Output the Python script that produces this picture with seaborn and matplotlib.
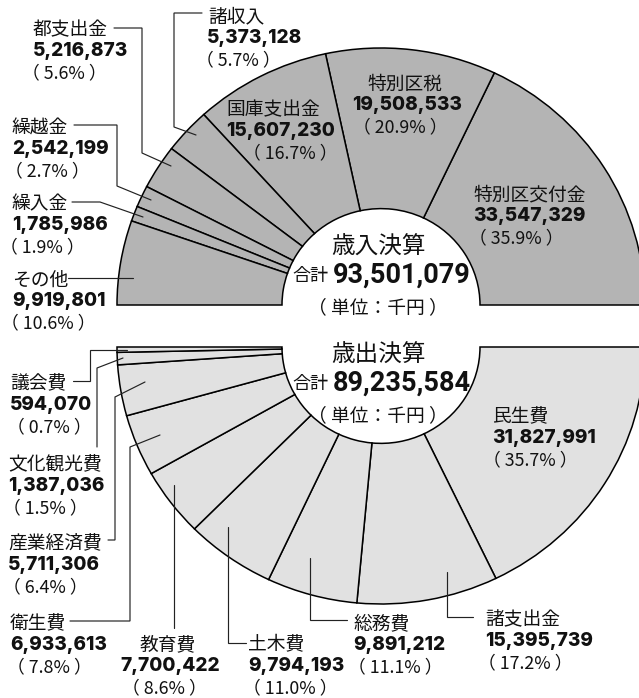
import matplotlib
matplotlib.use("Agg")
import matplotlib.pyplot as plt
import seaborn as sns
import numpy as np

# ---------------- data ----------------
rev_labels = ['特別区交付金', '特別区税', '国庫支出金', '諸収入', '都支出金', '繰越金', '繰入金', 'その他']
rev_values = [33547329, 19508533, 15607230, 5373128, 5216873, 2542199, 1785986, 9919801]
rev_pct = [35.9, 20.9, 16.7, 5.7, 5.6, 2.7, 1.9, 10.6]
rev_total = 93501079

exp_labels = ['民生費', '諸支出金', '総務費', '土木費', '教育費', '衛生費', '産業経済費', '文化観光費', '議会費']
exp_values = [31827991, 15395739, 9891212, 9794193, 7700422, 6933613, 5711306, 1387036, 594070]
exp_pct = [35.7, 17.2, 11.1, 11.0, 8.6, 7.8, 6.4, 1.5, 0.7]
exp_total = 89235584

rev_title = '歳入決算'
exp_title = '歳出決算'
total_word = '合計'
unit_text = '（ 単位：千円 ）'

# ---------------- style / layout ----------------
sns.set_theme(style='white')
plt.rcParams['font.family'] = ['Noto Sans CJK JP', 'DejaVu Sans']

W, H = 639, 698
S = 257 / 264            # vertical squash of the donuts (px per data unit in y)
CX, R, RIN = 381, 264, 99
TOP_CY, BOT_CY = 305, 347
TOP_COLOR, BOT_COLOR = '#b4b4b4', '#e1e1e1'
NUM_FONT = ['Inter', 'DejaVu Sans']
BIG_FONT = ['Roboto', 'DejaVu Sans']
FS_NAME, FS_NUM, FS_PCT = 13.5, 13.7, 12.8


def Y(y):
    return (H - y) / S


fig = plt.figure(figsize=(W / 100, H / 100), dpi=100)
ax = fig.add_axes([0, 0, 1, 1])

wp = dict(width=R - RIN, edgecolor='black', linewidth=1.1)
rev_frac = [v / (2 * sum(rev_values)) for v in rev_values]
exp_frac = [v / (2 * sum(exp_values)) for v in exp_values]
ax.pie(rev_frac, radius=R, center=(CX, Y(TOP_CY)), startangle=0, counterclock=True,
       normalize=False, colors=[TOP_COLOR] * len(rev_frac), wedgeprops=wp, frame=True)
ax.pie(exp_frac, radius=R, center=(CX, Y(BOT_CY)), startangle=0, counterclock=False,
       normalize=False, colors=[BOT_COLOR] * len(exp_frac), wedgeprops=wp, frame=True)
ax.set_aspect('auto')
ax.set_xlim(0, W)
ax.set_ylim(0, H / S)
ax.axis('off')

# label layout: (name_x, num_x, pct_x, name_center_y)
rev_pos = {
    '特別区交付金': (473, 473, 469, 193),
    '特別区税': (367, 352, 353, 82),
    '国庫支出金': (226, 226, 243, 108),
    '諸収入': (208, 207, 196, 15),
    '都支出金': (33, 33, 22, 28),
    '繰越金': (12, 12, 5, 126),
    '繰入金': (12, 12, 0, 202),
    'その他': (12, 12, 1, 278),
}
exp_pos = {
    '民生費': (492, 492, 483, 415),
    '諸支出金': (485, 485, 478, 618),
    '総務費': (353, 353, 348, 622),
    '土木費': (248, 248, 243, 643),
    '教育費': (140, 120, 122, 643),
    '衛生費': (10, 10, 7, 622),
    '産業経済費': (8, 8, 3, 542),
    '文化観光費': (8, 8, 3, 463),
    '議会費': (10, 10, 7, 382),
}

leaders = [
    [(114, 28), (142, 28), (142, 153), (171, 166)],
    [(202, 13), (174, 13), (174, 127), (196, 135)],
    [(74, 125), (117, 125), (117, 186), (151, 200)],
    [(72, 202), (100, 202), (143, 217)],
    [(68, 278), (133, 278)],
    [(447, 572), (447, 617), (473, 617)],
    [(310, 558), (310, 620), (347, 620)],
    [(228, 527), (228, 643), (246, 643)],
    [(174, 485), (174, 628)],
    [(70, 621), (130, 621), (130, 447), (160, 435)],
    [(108, 540), (115, 540), (115, 397), (145, 382)],
    [(97, 447), (97, 368), (123, 358)],
    [(73, 381), (90, 381), (90, 350), (127, 350)],
]
for pts in leaders:
    xs = [p[0] for p in pts]
    ys = [Y(p[1]) for p in pts]
    ax.plot(xs, ys, color='#222222', lw=0.85, solid_joinstyle='miter')


def block(name, value, pct, pos):
    nx, vx, px, y = pos
    ax.text(nx, Y(y + 2), name, fontsize=FS_NAME, ha='left', va='center', color='#111')
    ax.text(vx, Y(y + 23), f'{value:,}', fontsize=FS_NUM, fontweight=800,
            family=NUM_FONT, ha='left', va='center', color='#111')
    ax.text(px, Y(y + 45), f'（ {pct:.1f}% ）', fontsize=FS_PCT, ha='left', va='center', color='#111')


for n, v, p in zip(rev_labels, rev_values, rev_pct):
    block(n, v, p, rev_pos[n])
for n, v, p in zip(exp_labels, exp_values, exp_pct):
    block(n, v, p, exp_pos[n])

# center texts
for title, total, ty in [(rev_title, rev_total, 245), (exp_title, exp_total, 353)]:
    ax.text(378, Y(ty + 2), title, fontsize=17, ha='center', va='center', color='#111')
    ax.text(292, Y(ty + 31), total_word, fontsize=13, ha='left', va='center', color='#111')
    ax.text(333, Y(ty + 30), f'{total:,}', fontsize=19.5, fontweight='bold', family=BIG_FONT,
            ha='left', va='center', color='#111')
    ax.text(378, Y(ty + 63), unit_text, fontsize=13.5, ha='center', va='center', color='#111')

fig.savefig('out.png', dpi=100)
